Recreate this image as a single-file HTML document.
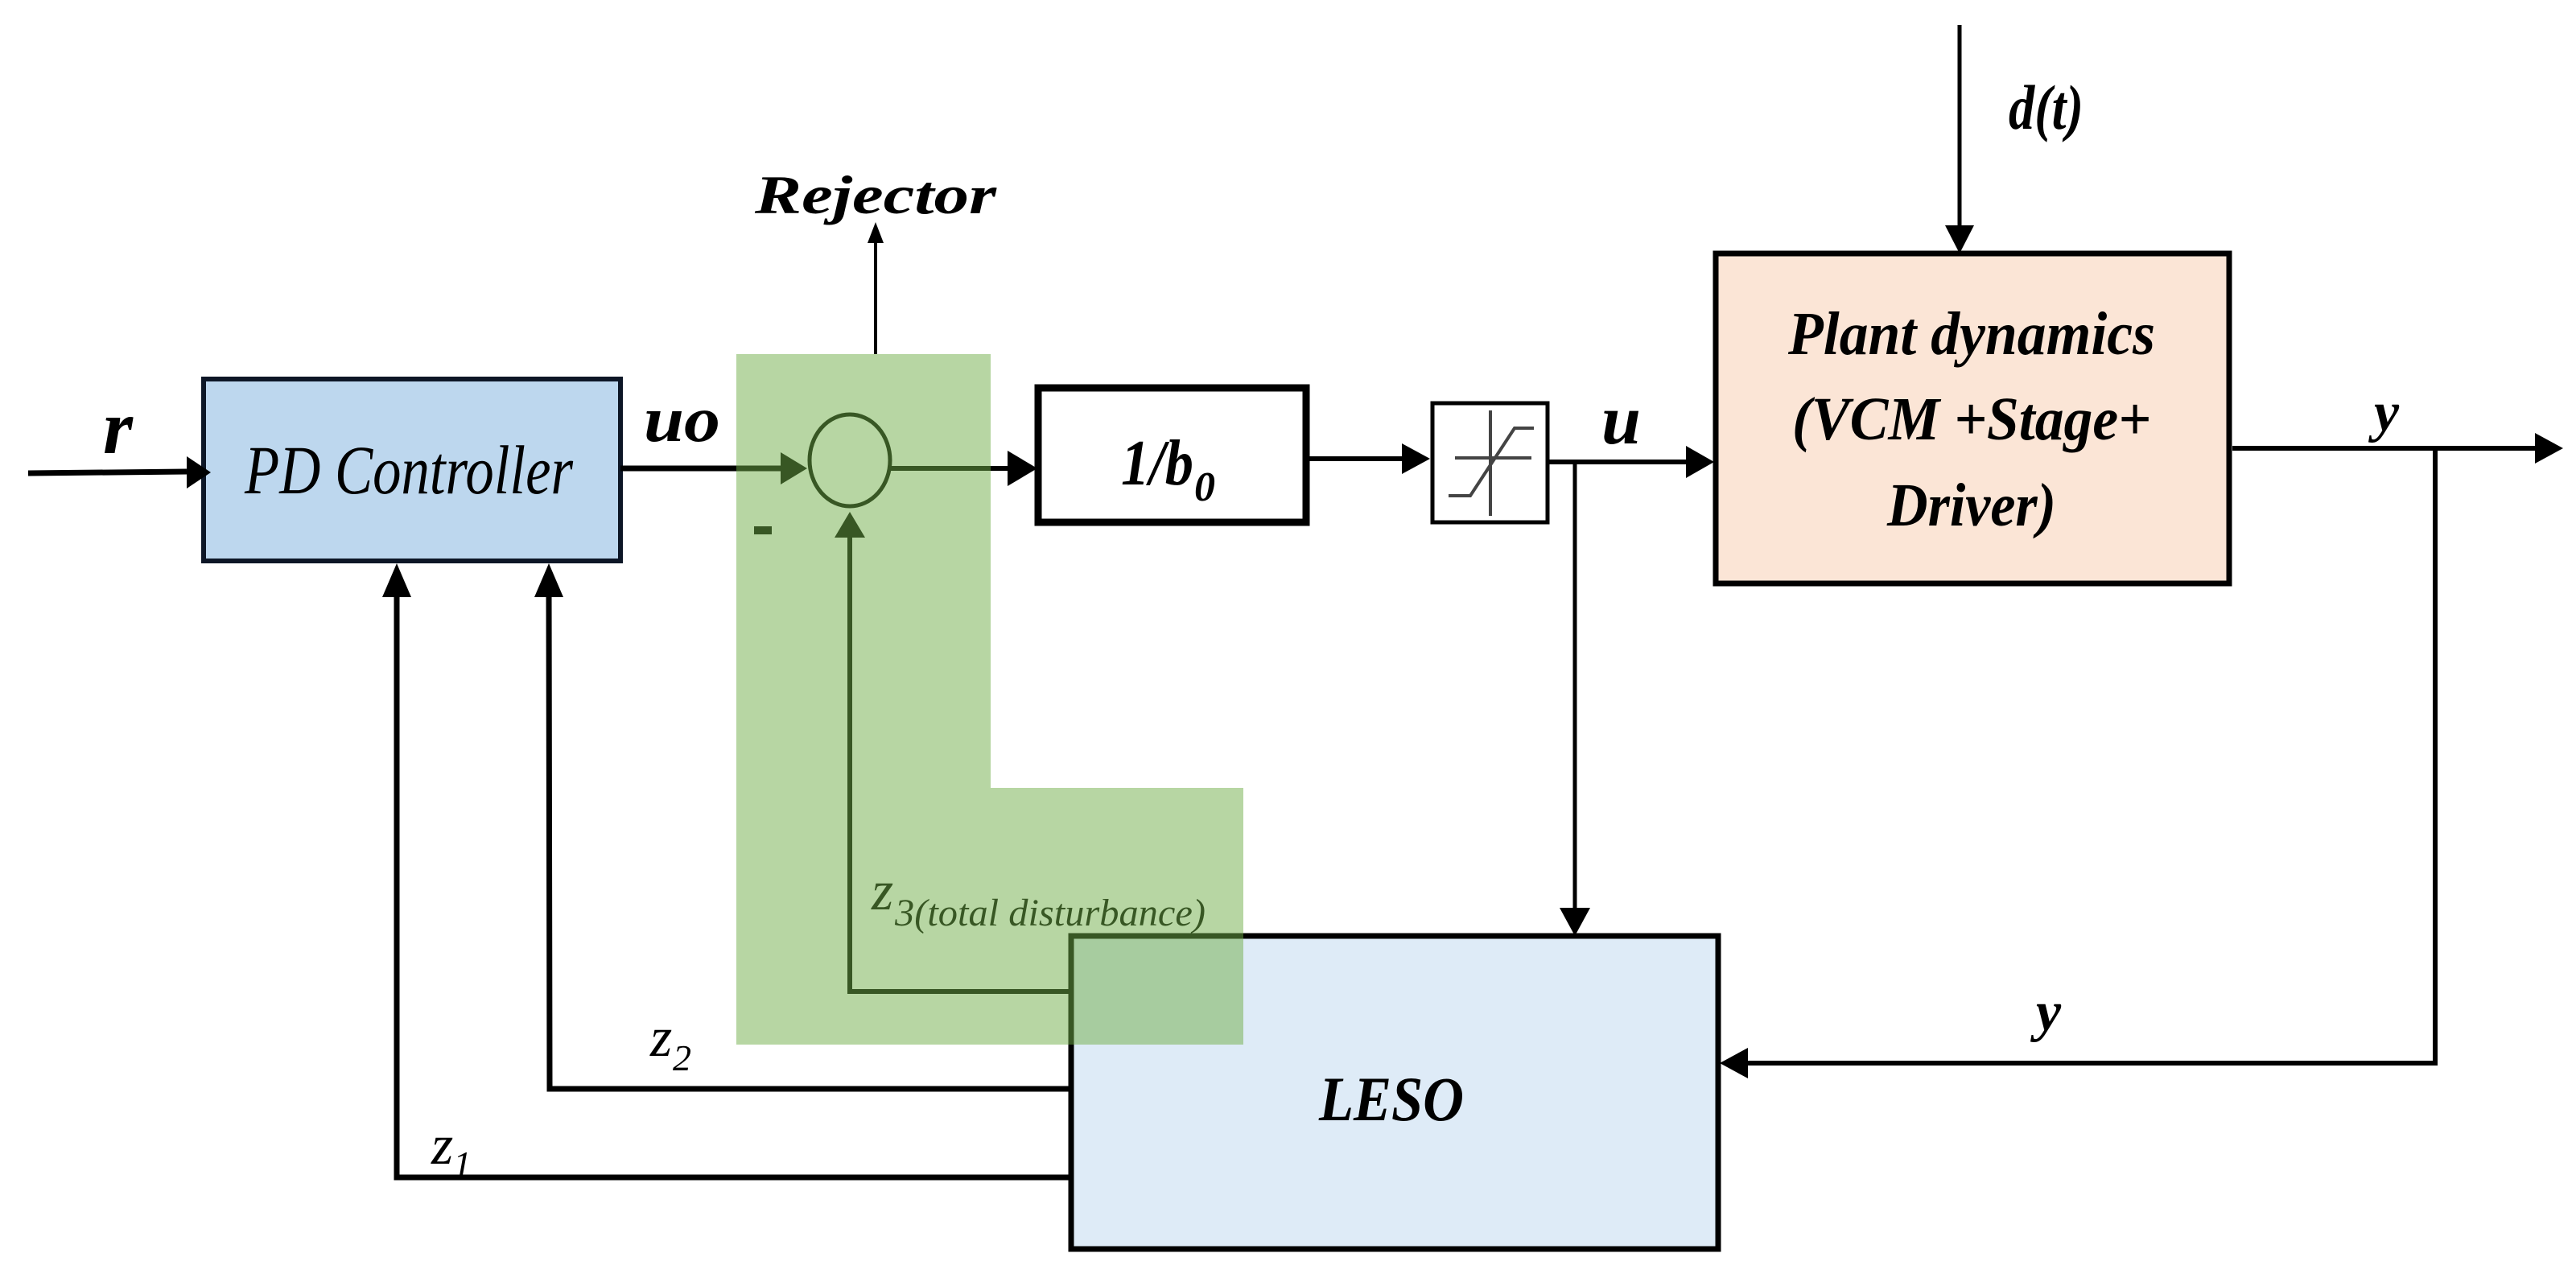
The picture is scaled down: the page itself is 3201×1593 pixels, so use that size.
<!DOCTYPE html>
<html><head><meta charset="utf-8"><style>
html,body{margin:0;padding:0;background:#fff;}
svg{display:block;}
text{font-family:"Liberation Serif",serif;font-style:italic;}
.b{font-weight:bold;}
</style></head><body>
<svg width="3201" height="1593" viewBox="0 0 3201 1593" xmlns="http://www.w3.org/2000/svg">
<!-- boxes -->
<rect x="253" y="471" width="518" height="226" fill="#bdd7ee" stroke="#0d1626" stroke-width="6"/>
<rect x="1290" y="482" width="333" height="167" fill="#fff" stroke="#000" stroke-width="9"/>
<rect x="1780" y="501" width="143" height="148" fill="#fff" stroke="#000" stroke-width="5"/>
<g stroke="#444" stroke-width="4" fill="none">
<line x1="1852" y1="510" x2="1852" y2="641"/>
<line x1="1808" y1="569" x2="1903" y2="569"/>
<polyline points="1800,616 1827,616 1882,532 1906,532"/>
</g>
<rect x="2132" y="315" width="638" height="410" fill="#fbe5d6" stroke="#000" stroke-width="7"/>
<rect x="1331" y="1163" width="804" height="389" fill="#deebf7" stroke="#000" stroke-width="7"/>

<!-- lines -->
<g stroke="#000" fill="none">
<line x1="35" y1="588" x2="232" y2="586" stroke-width="7"/>
<line x1="771" y1="582" x2="980" y2="582" stroke-width="7"/>
<ellipse cx="1056" cy="572" rx="50" ry="57" stroke-width="5"/>
<line x1="1106" y1="582" x2="1260" y2="582" stroke-width="6"/>
<line x1="1088" y1="440" x2="1088" y2="300" stroke-width="4"/>
<line x1="1623" y1="570" x2="1750" y2="570" stroke-width="6"/>
<line x1="1923" y1="574" x2="2105" y2="574" stroke-width="6"/>
<line x1="1957" y1="574" x2="1957" y2="1135" stroke-width="5"/>
<line x1="2435" y1="31" x2="2435" y2="290" stroke-width="5"/>
<line x1="2774" y1="557" x2="3155" y2="557" stroke-width="6"/>
<polyline points="3026,557 3026,1321 2165,1321" stroke-width="6"/>
<polyline points="1331,1232 1056,1232 1056,660" stroke-width="6"/>
<polyline points="1328,1353 683,1353 682,730" stroke-width="7"/>
<polyline points="1328,1463 493,1463 493,730" stroke-width="7"/>
</g>
<!-- arrowheads -->
<g fill="#000">
<polygon points="262,587 232,567 232,607"/>
<polygon points="1003,582 970,562 970,602"/>
<polygon points="1289,582 1252,560 1252,604"/>
<polygon points="1088,276 1078,302 1098,302"/>
<polygon points="1777,570 1742,551 1742,589"/>
<polygon points="2130,574 2095,554 2095,594"/>
<polygon points="1957,1163 1938,1128 1976,1128"/>
<polygon points="2435,315 2417,280 2453,280"/>
<polygon points="3185,557 3150,538 3150,576"/>
<polygon points="2137,1321 2172,1302 2172,1340"/>
<polygon points="1056,636 1037,668 1075,668"/>
<polygon points="682,700 664,742 700,742"/>
<polygon points="493,700 475,742 511,742"/>
</g>
<rect x="937" y="654" width="22" height="10" fill="#000"/>

<!-- text -->
<text x="128" y="563" font-size="95" class="b">r</text>
<text x="304" y="613" font-size="86" textLength="408" lengthAdjust="spacingAndGlyphs">PD Controller</text>
<text x="800" y="548" font-size="80" class="b" textLength="95" lengthAdjust="spacingAndGlyphs">uo</text>
<text x="938" y="265" font-size="68" class="b" textLength="300" lengthAdjust="spacingAndGlyphs">Rejector</text>
<text x="1393" y="602" font-size="80" class="b" textLength="90" lengthAdjust="spacingAndGlyphs">1/b</text>
<text x="1484" y="622" font-size="52" class="b">0</text>
<text x="1990" y="551" font-size="88" class="b">u</text>
<text x="2496" y="160" font-size="78" class="b" textLength="93" lengthAdjust="spacingAndGlyphs">d(t)</text>
<g font-size="76" class="b" text-anchor="middle">
<text x="2450" y="440" textLength="456" lengthAdjust="spacingAndGlyphs">Plant dynamics</text>
<text x="2450" y="546" textLength="446" lengthAdjust="spacingAndGlyphs">(VCM +Stage+</text>
<text x="2450" y="653" textLength="210" lengthAdjust="spacingAndGlyphs">Driver)</text>
</g>
<text x="2950" y="535" font-size="70" class="b">y</text>
<text x="2530" y="1280" font-size="70" class="b">y</text>
<text x="1639" y="1392" font-size="78" class="b" textLength="180" lengthAdjust="spacingAndGlyphs">LESO</text>
<text x="1083" y="1130" font-size="70">z</text>
<text x="1112" y="1150" font-size="48" textLength="386" lengthAdjust="spacingAndGlyphs">3(total disturbance)</text>
<text x="808" y="1312" font-size="70">z</text>
<text x="836" y="1330" font-size="46">2</text>
<text x="536" y="1446" font-size="70">z</text>
<text x="563" y="1462" font-size="46">1</text>

<!-- green overlay -->
<path d="M915,440 H1231 V979 H1545 V1298 H915 Z" fill="rgb(112,173,71)" fill-opacity="0.5"/>
</svg>
</body></html>
